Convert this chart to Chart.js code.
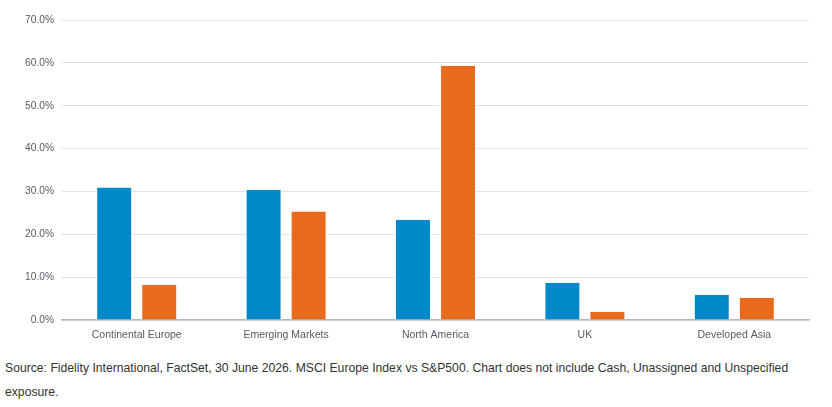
<!DOCTYPE html>
<html>
<head>
<meta charset="utf-8">
<script src="https://cdn.jsdelivr.net/npm/chart.js@4.4.1/dist/chart.umd.min.js"></script>
<style>
    html, body { margin: 0; padding: 0; background: #ffffff; }
    .wrap { position: relative; width: 832px; height: 345px; }
    .source {
        margin: 0;
        padding: 11px 0 0 5px;
        font-family: "Liberation Sans", Arial, sans-serif;
        font-size: 12.2px;
        line-height: 24px;
        color: #333333;
    }
</style>
</head>
<body>
<div class="wrap"><canvas id="chartRegiones"></canvas></div>
<p class="source">Source: Fidelity International, FactSet, 30 June 2026. MSCI Europe Index vs S&amp;P500. Chart does not include Cash, Unassigned and Unspecified<br>exposure.</p>

<script>
const categories = ['Continental Europe', 'Emerging Markets', 'North America', 'UK', 'Developed Asia'];
const msciEurope = [30.9, 30.4, 23.4, 8.7, 5.9];
const sp500 = [8.2, 25.3, 59.3, 1.9, 5.2];
const yTicks = [0, 10, 20, 30, 40, 50, 60, 70];

document.addEventListener('DOMContentLoaded', () => {
    const ctx = document.getElementById('chartRegiones').getContext('2d');
    const tickFont = { family: '"Liberation Sans", Arial, sans-serif', size: 10.2 };
    // borde blanco a los lados para cortar la rejilla como en el original
    const barStyle = {
        borderColor: '#ffffff',
        borderWidth: { left: 1.5, right: 1.5, top: 0, bottom: 0 },
        borderSkipped: false,
        categoryPercentage: 0.603,
        barPercentage: 0.82
    };

    new Chart(ctx, {
        type: 'bar',
        data: {
            labels: categories,
            datasets: [
                { label: 'MSCI Europe Index', data: msciEurope, backgroundColor: '#0089c9', ...barStyle },
                { label: 'S&P500', data: sp500, backgroundColor: '#ea6a1b', ...barStyle }
            ]
        },
        options: {
            responsive: true,
            maintainAspectRatio: false,
            animation: false,
            layout: { padding: { top: 20, right: 23, left: 0, bottom: 0 } },
            plugins: {
                legend: { display: false },
                tooltip: { enabled: false }
            },
            scales: {
                x: {
                    grid: { display: false, drawTicks: false },
                    border: { display: true, color: '#b3b7bd', width: 1.5 },
                    ticks: { color: '#555b63', font: { ...tickFont, size: 10.5 }, padding: 9, maxRotation: 0 },
                    afterFit: scale => { scale.height = 25; }
                },
                y: {
                    min: 0,
                    max: 70,
                    afterBuildTicks: scale => { scale.ticks = yTicks.map(v => ({ value: v })); },
                    grid: { color: '#e1e2e5', lineWidth: 1, drawTicks: false },
                    border: { display: false },
                    ticks: {
                        color: '#555b63',
                        font: tickFont,
                        padding: 8,
                        callback: value => Number(value).toFixed(1) + '%'
                    },
                    afterFit: scale => { scale.width = 62; }
                }
            }
        }
    });
});
</script>
</body>
</html>
